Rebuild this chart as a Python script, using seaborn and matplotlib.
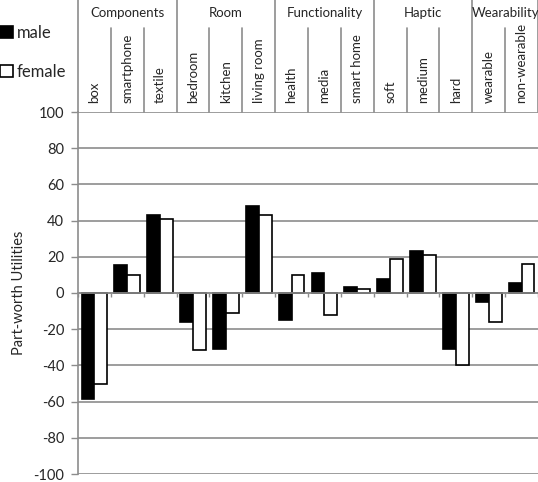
import numpy as np
import pandas as pd
import matplotlib
matplotlib.use('Agg')
import matplotlib.pyplot as plt
import matplotlib.transforms as mtransforms
import seaborn as sns

# --------------
# Data (part-worth utilities by gender)
# --------------
groups = ['Components', 'Room', 'Functionality', 'Haptic', 'Wearability']
group_sizes = [3, 3, 3, 3, 2]
levels = ['box', 'smartphone', 'textile', 'bedroom', 'kitchen', 'living room',
          'health', 'media', 'smart home', 'soft', 'medium', 'hard',
          'wearable', 'non-wearable']
male = [-58.5, 15.5, 43, -16, -31, 48, -15, 11, 3.5, 8, 23, -31, -5, 5.5]
female = [-50, 10, 41, -31.5, -11, 43, 10, -12, 2, 19, 21, -40, -16, 16]
y_ticks = [-100, -80, -60, -40, -20, 0, 20, 40, 60, 80, 100]

df = pd.DataFrame({'level': levels * 2,
                   'utility': male + female,
                   'gender': ['male'] * len(levels) + ['female'] * len(levels)})

# --------------
# Figure
# --------------
sns.set_style('white')
plt.rcParams['font.family'] = ['Lato', 'DejaVu Sans']
plt.rcParams['axes.unicode_minus'] = False
grid_col = '#8c8c8c'

fig = plt.figure(figsize=(5.38, 4.82), dpi=100)
ax = fig.add_axes([78 / 538, 8 / 482, 460 / 538, 362 / 482])

sns.barplot(data=df, x='level', y='utility', hue='gender', order=levels,
            hue_order=['male', 'female'],
            palette={'male': 'black', 'female': 'white'},
            saturation=1, edgecolor='black', linewidth=1.2, width=0.78,
            ax=ax)

ax.set_xlim(-0.5, len(levels) - 0.5)
ax.set_ylim(-100, 100)
ax.set_yticks(y_ticks)
ax.set_axisbelow(True)
ax.yaxis.grid(True, color=grid_col, linewidth=1.2)
ax.xaxis.grid(False)
ax.tick_params(axis='y', direction='out', length=5, width=1, color=grid_col,
               labelsize=10.5, pad=5, left=True)
ax.set_ylabel('Part-worth Utilities', fontsize=10.5, labelpad=5)
ax.set_xlabel('')

# zero line with small ticks at category boundaries
ax.spines['bottom'].set_position(('data', 0))
ax.spines['bottom'].set_color(grid_col)
ax.spines['bottom'].set_linewidth(1.2)
ax.set_xticks(np.arange(-0.5, len(levels)))
ax.set_xticklabels([])
ax.tick_params(axis='x', direction='out', length=3, width=1, color=grid_col,
               bottom=True)
ax.spines['left'].set_color(grid_col)
ax.spines['left'].set_linewidth(1.2)
ax.spines['top'].set_visible(False)
ax.spines['right'].set_visible(False)

# --------------
# Header table above the plot
# --------------
trans = mtransforms.blended_transform_factory(ax.transData, fig.transFigure)
y_axes_top = 1 - 112 / 482
y_inner_top = 1 - 28 / 482
y_group_text = 1 - 13 / 482
y_level_text = 1 - 103 / 482

for i, name in enumerate(levels):
    ax.text(i, y_level_text, name, transform=trans, rotation=90,
            ha='center', va='bottom', fontsize=9.5, clip_on=False)

start = 0
group_edges = [-0.5]
for name, size in zip(groups, group_sizes):
    ax.text(start + (size - 1) / 2, y_group_text, name, transform=trans,
            ha='center', va='center', fontsize=9.5, clip_on=False)
    start += size
    group_edges.append(start - 0.5)

for b in np.arange(-0.5, len(levels)):
    top = 1.0 if b in group_edges else y_inner_top
    ax.plot([b, b], [y_axes_top, top], transform=trans, color=grid_col,
            linewidth=1.2, clip_on=False)

# --------------
# Legend
# --------------
handles, labels = ax.get_legend_handles_labels()
ax.legend(handles, labels, loc='upper left', bbox_to_anchor=(0.0, 0.949),
          bbox_transform=fig.transFigure, frameon=False, fontsize=12,
          handlelength=0.75, handleheight=0.75, handletextpad=0.25,
          labelspacing=1.4, borderpad=0, borderaxespad=0)

plt.savefig('out.png', dpi=100)
plt.close()
